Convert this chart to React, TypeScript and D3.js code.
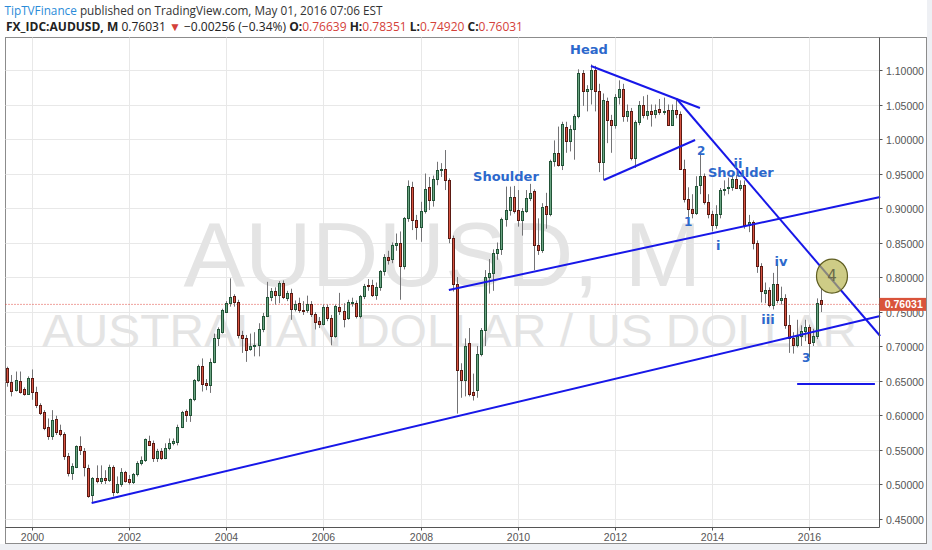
import React from 'react';
import * as d3 from 'd3';

// [open, high, low, close] monthly candles, Jul 1999 .. Apr 2016
type C = [number, number, number, number];

const y1999: C[] = [
  [0.668, 0.670, 0.641, 0.648], [0.648, 0.658, 0.627, 0.635], [0.636, 0.663, 0.634, 0.651],
  [0.650, 0.663, 0.631, 0.634], [0.637, 0.640, 0.628, 0.631], [0.631, 0.656, 0.629, 0.654],
];
const y2000: C[] = [
  [0.654, 0.666, 0.622, 0.634], [0.634, 0.641, 0.610, 0.615], [0.615, 0.617, 0.600, 0.603],
  [0.605, 0.607, 0.578, 0.581], [0.583, 0.595, 0.564, 0.569], [0.569, 0.607, 0.564, 0.593],
  [0.594, 0.599, 0.571, 0.576], [0.578, 0.586, 0.569, 0.572], [0.573, 0.575, 0.535, 0.540],
  [0.540, 0.545, 0.511, 0.516], [0.516, 0.530, 0.506, 0.526], [0.525, 0.556, 0.523, 0.555],
];
const y2001: C[] = [
  [0.555, 0.569, 0.542, 0.549], [0.548, 0.552, 0.511, 0.525], [0.523, 0.528, 0.480, 0.482],
  [0.484, 0.510, 0.474, 0.508], [0.508, 0.527, 0.501, 0.505], [0.505, 0.527, 0.500, 0.509],
  [0.509, 0.520, 0.500, 0.506], [0.506, 0.528, 0.503, 0.525], [0.525, 0.527, 0.482, 0.489],
  [0.489, 0.511, 0.486, 0.500], [0.500, 0.523, 0.496, 0.518], [0.518, 0.519, 0.502, 0.505],
];
const y2002: C[] = [
  [0.507, 0.513, 0.499, 0.503], [0.503, 0.516, 0.500, 0.514], [0.514, 0.533, 0.511, 0.531],
  [0.531, 0.540, 0.527, 0.535], [0.535, 0.566, 0.532, 0.565], [0.563, 0.570, 0.555, 0.557],
  [0.560, 0.563, 0.532, 0.538], [0.537, 0.551, 0.532, 0.548], [0.548, 0.552, 0.535, 0.538],
  [0.538, 0.559, 0.536, 0.552], [0.552, 0.566, 0.549, 0.559], [0.559, 0.566, 0.556, 0.563],
];
const y2003: C[] = [
  [0.561, 0.586, 0.556, 0.583], [0.583, 0.606, 0.581, 0.605], [0.606, 0.608, 0.590, 0.600],
  [0.600, 0.624, 0.590, 0.623], [0.623, 0.652, 0.620, 0.651], [0.651, 0.673, 0.648, 0.671],
  [0.671, 0.682, 0.634, 0.645], [0.646, 0.652, 0.636, 0.643], [0.644, 0.682, 0.632, 0.677],
  [0.677, 0.718, 0.675, 0.712], [0.712, 0.727, 0.700, 0.724], [0.721, 0.754, 0.718, 0.752],
];
const y2004: C[] = [
  [0.750, 0.765, 0.748, 0.762], [0.762, 0.798, 0.757, 0.771], [0.772, 0.775, 0.757, 0.764],
  [0.764, 0.767, 0.711, 0.716], [0.716, 0.722, 0.690, 0.712], [0.712, 0.716, 0.677, 0.694],
  [0.695, 0.718, 0.693, 0.700], [0.700, 0.720, 0.685, 0.702], [0.701, 0.733, 0.685, 0.725],
  [0.724, 0.748, 0.720, 0.744], [0.744, 0.793, 0.742, 0.771], [0.771, 0.784, 0.765, 0.780],
];
const y2005: C[] = [
  [0.780, 0.785, 0.760, 0.774], [0.774, 0.794, 0.762, 0.791], [0.791, 0.795, 0.768, 0.771],
  [0.770, 0.780, 0.765, 0.777], [0.777, 0.783, 0.738, 0.754], [0.754, 0.766, 0.750, 0.761],
  [0.762, 0.770, 0.748, 0.752], [0.752, 0.765, 0.745, 0.751], [0.752, 0.773, 0.748, 0.761],
  [0.761, 0.765, 0.742, 0.746], [0.746, 0.749, 0.724, 0.735], [0.736, 0.742, 0.726, 0.732],
];
const y2006: C[] = [
  [0.732, 0.760, 0.730, 0.756], [0.756, 0.760, 0.736, 0.740], [0.740, 0.745, 0.701, 0.714],
  [0.714, 0.760, 0.712, 0.758], [0.757, 0.777, 0.745, 0.751], [0.751, 0.762, 0.727, 0.739],
  [0.741, 0.767, 0.738, 0.764], [0.762, 0.770, 0.757, 0.764], [0.762, 0.766, 0.740, 0.744],
  [0.744, 0.774, 0.740, 0.772], [0.772, 0.790, 0.768, 0.787], [0.788, 0.797, 0.780, 0.787],
];
const y2007: C[] = [
  [0.788, 0.796, 0.771, 0.774], [0.774, 0.792, 0.767, 0.786], [0.786, 0.810, 0.780, 0.808],
  [0.808, 0.833, 0.802, 0.829], [0.829, 0.838, 0.818, 0.825], [0.826, 0.850, 0.820, 0.846],
  [0.847, 0.863, 0.838, 0.850], [0.849, 0.866, 0.767, 0.816], [0.816, 0.887, 0.811, 0.886],
  [0.886, 0.940, 0.880, 0.932], [0.931, 0.938, 0.868, 0.883], [0.883, 0.890, 0.854, 0.873],
];
const y2008: C[] = [
  [0.873, 0.909, 0.851, 0.895], [0.895, 0.950, 0.892, 0.928], [0.930, 0.945, 0.897, 0.912],
  [0.912, 0.947, 0.902, 0.942], [0.942, 0.967, 0.933, 0.955], [0.955, 0.965, 0.945, 0.957],
  [0.957, 0.984, 0.926, 0.941], [0.941, 0.943, 0.849, 0.856], [0.856, 0.860, 0.779, 0.790],
  [0.790, 0.800, 0.602, 0.665], [0.665, 0.675, 0.625, 0.651], [0.651, 0.711, 0.627, 0.700],
];
const y2009: C[] = [
  [0.704, 0.726, 0.627, 0.631], [0.634, 0.660, 0.621, 0.629], [0.636, 0.700, 0.625, 0.689],
  [0.689, 0.726, 0.685, 0.723], [0.723, 0.810, 0.700, 0.800], [0.800, 0.826, 0.776, 0.806],
  [0.806, 0.840, 0.780, 0.835], [0.835, 0.850, 0.825, 0.840], [0.840, 0.886, 0.832, 0.884],
  [0.884, 0.931, 0.873, 0.897], [0.897, 0.931, 0.889, 0.916], [0.916, 0.932, 0.892, 0.895],
];
const y2010: C[] = [
  [0.897, 0.926, 0.873, 0.883], [0.883, 0.900, 0.860, 0.895], [0.895, 0.926, 0.893, 0.914],
  [0.914, 0.935, 0.910, 0.922], [0.924, 0.927, 0.810, 0.846], [0.846, 0.885, 0.832, 0.839],
  [0.839, 0.907, 0.835, 0.902], [0.903, 0.922, 0.870, 0.892], [0.892, 0.970, 0.888, 0.968],
  [0.968, 0.998, 0.960, 0.980], [0.980, 1.018, 0.960, 0.962], [0.962, 1.025, 0.955, 1.022],
];
const y2011: C[] = [
  [1.017, 1.025, 0.980, 0.997], [0.997, 1.020, 0.982, 1.015], [1.015, 1.036, 0.970, 1.033],
  [1.033, 1.101, 1.030, 1.095], [1.095, 1.100, 1.048, 1.070], [1.070, 1.078, 1.040, 1.073],
  [1.073, 1.108, 1.050, 1.100], [1.100, 1.106, 1.040, 1.069], [1.069, 1.080, 0.952, 0.966],
  [0.966, 1.066, 0.940, 1.056], [1.055, 1.060, 0.994, 1.027], [1.027, 1.035, 0.980, 1.020],
];
const y2012: C[] = [
  [1.020, 1.065, 1.015, 1.061], [1.061, 1.085, 1.050, 1.072], [1.072, 1.080, 1.025, 1.034],
  [1.034, 1.050, 1.025, 1.041], [1.040, 1.045, 0.969, 0.972], [0.972, 1.027, 0.958, 1.024],
  [1.024, 1.055, 1.020, 1.050], [1.050, 1.062, 1.030, 1.035], [1.035, 1.064, 1.028, 1.041],
  [1.041, 1.050, 1.018, 1.036], [1.036, 1.050, 1.030, 1.042], [1.043, 1.058, 1.035, 1.039],
];
const y2013: C[] = [
  [1.039, 1.060, 1.035, 1.041], [1.042, 1.050, 1.020, 1.021], [1.021, 1.050, 1.020, 1.042],
  [1.042, 1.059, 1.030, 1.036], [1.036, 1.040, 0.955, 0.956], [0.956, 0.970, 0.908, 0.913],
  [0.913, 0.930, 0.887, 0.899], [0.899, 0.920, 0.885, 0.893], [0.893, 0.946, 0.890, 0.932],
  [0.933, 0.977, 0.920, 0.946], [0.946, 0.950, 0.905, 0.909], [0.909, 0.920, 0.885, 0.891],
];
const y2014: C[] = [
  [0.891, 0.896, 0.866, 0.875], [0.875, 0.904, 0.870, 0.892], [0.892, 0.929, 0.885, 0.926],
  [0.926, 0.940, 0.918, 0.928], [0.929, 0.944, 0.920, 0.930], [0.930, 0.950, 0.925, 0.942],
  [0.942, 0.948, 0.928, 0.929], [0.929, 0.940, 0.925, 0.933], [0.933, 0.940, 0.870, 0.875],
  [0.875, 0.890, 0.865, 0.879], [0.879, 0.882, 0.840, 0.850], [0.850, 0.853, 0.806, 0.816],
];
const y2015: C[] = [
  [0.816, 0.820, 0.763, 0.779], [0.777, 0.792, 0.762, 0.781], [0.781, 0.785, 0.756, 0.760],
  [0.760, 0.806, 0.753, 0.790], [0.790, 0.818, 0.762, 0.766], [0.766, 0.786, 0.760, 0.770],
  [0.769, 0.775, 0.725, 0.730], [0.730, 0.745, 0.690, 0.712], [0.712, 0.720, 0.689, 0.702],
  [0.702, 0.738, 0.698, 0.714], [0.714, 0.730, 0.700, 0.722], [0.722, 0.738, 0.707, 0.728],
];
const y2016: C[] = [
  [0.728, 0.731, 0.683, 0.704], [0.706, 0.725, 0.700, 0.714], [0.714, 0.769, 0.710, 0.76287],
  [0.76639, 0.78351, 0.7492, 0.76031],
];

const candles: C[] = [
  ...y1999, ...y2000, ...y2001, ...y2002, ...y2003, ...y2004, ...y2005, ...y2006, ...y2007,
  ...y2008, ...y2009, ...y2010, ...y2011, ...y2012, ...y2013, ...y2014, ...y2015, ...y2016,
];
const firstMonth = -6; // Jul 1999, months counted from Jan 2000

const priceTicks = [0.45, 0.5, 0.55, 0.6, 0.65, 0.7, 0.75, 0.8, 0.85, 0.9, 0.95, 1.0, 1.05, 1.1];
const yearTicks = [2000, 2002, 2004, 2006, 2008, 2010, 2012, 2014, 2016];

// drawings: [month index from Jan 2000, price] endpoints
const trendLines: [number, number, number, number][] = [
  [14.8, 0.4725, 209.5, 0.7435],
  [103.0, 0.7812, 209.5, 0.916],
  [138.1, 1.1058, 165.0, 1.045],
  [159.3, 1.058, 209.5, 0.7145],
  [141.3, 0.9406, 163.8, 0.9986],
  [189.0, 0.645, 208.2, 0.645],
];
const waveLabels: { t: string; m: number; p: number; s: number }[] = [
  { t: 'Head', m: 137.6, p: 1.129, s: 13 },
  { t: 'Shoulder', m: 117.1, p: 0.945, s: 13 },
  { t: 'Shoulder', m: 175.1, p: 0.952, s: 13 },
  { t: 'ii', m: 174.4, p: 0.965, s: 13 },
  { t: '1', m: 162.1, p: 0.88, s: 12 },
  { t: '2', m: 165.3, p: 0.983, s: 12 },
  { t: 'i', m: 169.5, p: 0.846, s: 13 },
  { t: 'iv', m: 185.0, p: 0.823, s: 13 },
  { t: 'iii', m: 181.8, p: 0.738, s: 13 },
  { t: '3', m: 191.2, p: 0.683, s: 12 },
];
const circleMark = { t: '4', m: 197.6, p: 0.8014 };

const W = 932;
const H = 550;
const L = 5.5, R = 879.5, T = 37.5, B = 527.5;

export default function App() {
  const x = d3.scaleLinear().domain([0, 192]).range([31.7, 31.7 + 4.05 * 192]);
  const y = d3.scaleLinear().domain([0.45, 1.1]).range([518.5, 70]);
  const fmt = d3.format('.5f');
  const last = candles[candles.length - 1];
  const prev = candles[candles.length - 2];
  const chg = last[3] - prev[3];
  const pct = (chg / prev[3]) * 100;
  const minus = (v: number, f: string) => (v < 0 ? '\u2212' : '') + d3.format(f)(Math.abs(v));
  const red = '#d4413a';
  const lblBlue = '#2c68cc';
  const lineBlue = '#1717e8';
  const py = y(last[3]);

  return (
    <svg width={W} height={H} style={{ position: 'absolute', left: 0, top: 0 }}
      xmlns="http://www.w3.org/2000/svg">
      <rect x={0} y={0} width={W} height={H} fill="#ffffff" />
      <rect x={927} y={0} width={5} height={H} fill="#eef0f4" />
      <rect x={0} y={544} width={W} height={6} fill="#eef0f4" />

      {/* header */}
      <text x={4.5} y={14.5} fontFamily="'Open Sans', sans-serif" fontSize={12} fill="#333"
        textLength={378} lengthAdjust="spacingAndGlyphs">
        <tspan fill="#2a8bd8">TipTVFinance</tspan>
        <tspan> published on TradingView.com, May 01, 2016 07:06 EST</tspan>
      </text>
      <text x={6} y={31} fontFamily="'Open Sans', sans-serif" fontSize={12} fill="#222"
        textLength={517} lengthAdjust="spacingAndGlyphs">
        <tspan fontWeight="bold">FX_IDC:AUDUSD, M</tspan>
        <tspan> {fmt(last[3])} </tspan>
        <tspan fill={red}>▼</tspan>
        <tspan> {minus(chg, '.5f')} ({minus(pct, '.2f')}%) </tspan>
        <tspan fontWeight="bold">O:</tspan><tspan fill={red}>{fmt(last[0])}</tspan>
        <tspan fontWeight="bold"> H:</tspan><tspan fill={red}>{fmt(last[1])}</tspan>
        <tspan fontWeight="bold"> L:</tspan><tspan fill={red}>{fmt(last[2])}</tspan>
        <tspan fontWeight="bold"> C:</tspan><tspan fill={red}>{fmt(last[3])}</tspan>
      </text>

      {/* frame */}
      <rect x={L} y={T} width={926.5 - L} height={543.5 - T} fill="#fff" stroke="#8c8c8c" strokeWidth={1} />

      {/* grid */}
      {priceTicks.map((p) => (
        <line key={'g' + p} x1={L} x2={R} y1={Math.round(y(p)) + 0.5} y2={Math.round(y(p)) + 0.5}
          stroke="#e8e8e8" strokeWidth={1} />
      ))}
      {yearTicks.map((yr) => {
        const xx = Math.round(x((yr - 2000) * 12)) + 0.5;
        return <line key={'v' + yr} x1={xx} x2={xx} y1={T} y2={B} stroke="#e8e8e8" strokeWidth={1} />;
      })}

      {/* watermark */}
      <text x={(L + R) / 2} y={286} textAnchor="middle" fontFamily="'Liberation Sans', Arial, sans-serif"
        fontSize={90} fill="#e4e4e4" textLength={518} lengthAdjust="spacingAndGlyphs">AUDUSD, M</text>
      <text x={449.5} y={347} textAnchor="middle" fontFamily="'Liberation Sans', Arial, sans-serif"
        fontSize={46} fill="#e4e4e4" textLength={815} lengthAdjust="spacingAndGlyphs">AUSTRALIAN DOLLAR / US DOLLAR</text>

      {/* last price dotted line */}
      <line x1={L} x2={R} y1={py} y2={py} stroke="#e0443c" strokeWidth={1} strokeDasharray="1,2" />

      {/* candles */}
      <g>
        {candles.map((c, i) => {
          const [o, h, l, cl] = c;
          const cx = Math.round(x(i + firstMonth));
          const up = cl >= o;
          const top = Math.round(y(Math.max(o, cl))) + 0.5;
          const bot = Math.round(y(Math.min(o, cl))) + 0.5;
          const hgt = Math.max(1, bot - top);
          return (
            <g key={i}>
              <line x1={cx + 0.5} x2={cx + 0.5} y1={y(h)} y2={y(l)} stroke="#737375" strokeWidth={1} />
              <rect x={cx - 0.5} y={top} width={2} height={hgt}
                fill={up ? '#6ba583' : '#d75442'} stroke={up ? '#225437' : '#5b1a13'} strokeWidth={1} />
            </g>
          );
        })}
      </g>

      {/* drawings */}
      {trendLines.map((d, i) => (
        <line key={'t' + i} x1={x(d[0])} y1={y(d[1])} x2={x(d[2])} y2={y(d[3])}
          stroke={lineBlue} strokeWidth={2} />
      ))}
      {waveLabels.map((d, i) => (
        <text key={'w' + i} x={x(d.m)} y={y(d.p)} textAnchor="middle" dominantBaseline="central"
          fontFamily="'DejaVu Sans', Verdana, sans-serif" fontWeight="bold" fontSize={d.s} fill={lblBlue}>
          {d.t}
        </text>
      ))}
      <ellipse cx={x(circleMark.m)} cy={y(circleMark.p)} rx={15.5} ry={17}
        fill="#b9b752" fillOpacity={0.7} stroke="#5f5e22" strokeWidth={1.2} />
      <text x={x(circleMark.m)} y={y(circleMark.p)} textAnchor="middle" dominantBaseline="central"
        fontFamily="'DejaVu Sans', sans-serif" fontSize={15} fill="#6a6a4a">{circleMark.t}</text>

      {/* axes */}
      <line x1={R} x2={R} y1={T} y2={B} stroke="#555" strokeWidth={1} />
      <line x1={L} x2={R} y1={B} y2={B} stroke="#555" strokeWidth={1} />
      {priceTicks.map((p) => {
        const yy = Math.round(y(p)) + 0.5;
        return (
          <g key={'yt' + p}>
            <line x1={R} x2={R + 3} y1={yy} y2={yy} stroke="#555" />
            <text x={886} y={yy} dominantBaseline="central" fontFamily="'Liberation Sans', Arial, sans-serif"
              fontSize={10.5} fill="#555">{fmt(p)}</text>
          </g>
        );
      })}
      {yearTicks.map((yr) => {
        const xx = Math.round(x((yr - 2000) * 12)) + 0.5;
        return (
          <g key={'xt' + yr}>
            <line x1={xx} x2={xx} y1={B} y2={B + 3} stroke="#555" />
            <text x={xx} y={541} textAnchor="middle" fontFamily="'Liberation Sans', Arial, sans-serif"
              fontSize={10.5} fill="#555">{yr}</text>
          </g>
        );
      })}

      {/* last price label */}
      <rect x={R} y={py - 6.5} width={926 - R} height={13} fill="#d9533a" />
      <text x={(R + 926) / 2 + 1} y={py} textAnchor="middle" dominantBaseline="central"
        fontFamily="'Liberation Sans', Arial, sans-serif" fontWeight="bold" fontSize={10.5} fill="#fff">
        {fmt(last[3])}
      </text>
    </svg>
  );
}
